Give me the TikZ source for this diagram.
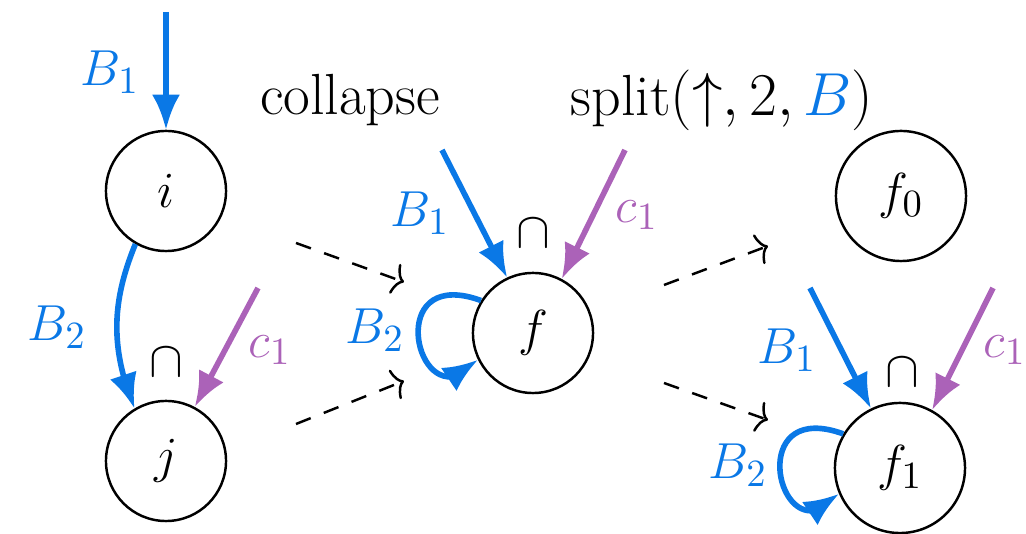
\documentclass[tikz,border=0pt]{standalone}
\usepackage{amsmath,amssymb}
\usepackage{xcolor}
\definecolor{EdgeBlue}{HTML}{0A78E6}
\definecolor{EdgePurple}{HTML}{AB62B8}
\usepackage{tikz}
\usetikzlibrary{arrows.meta,bending,calc,positioning}

\begin{document}
\begin{tikzpicture}[
    x=0.01cm,y=-0.01cm,
    every node/.style={font=\fontsize{15}{18}\selectfont},
    state/.style={circle,draw,line width=0.7pt,minimum size=1.2cm,inner sep=0pt},
    bigstate/.style={state,minimum size=1.3cm},
    opname/.style={font=\fontsize{16.5}{20}\selectfont},
    bluearr/.style={EdgeBlue,line width=1.6pt,-{Latex[length=3.5mm,width=2.8mm]}},
    purplearr/.style={EdgePurple,line width=1.6pt,-{Latex[length=3.5mm,width=2.8mm]}},
    stepmap/.style={line width=0.7pt,dash pattern=on 4.5pt off 4pt,
      -{Computer Modern Rightarrow[length=3pt,width=9pt]}},
    bluelbl/.style={text=EdgeBlue,inner sep=0pt},
    purplelbl/.style={text=EdgePurple,inner sep=0pt}
  ]
  \useasboundingbox (0,0) rectangle (1026,534);

  % states
  \node[state] (i) at (166,191) {$i$};
  \node[state] (j) at (166,461) {$j$};
  \node[state] (f) at (533,333) {$f$};
  \node[bigstate] (f0) at (901,196) {$f_0$};
  \node[bigstate] (f1) at (900,468) {$f_1$};

  % operation names
  \node[opname] (collapse) at (350,100) {collapse};
  \node[opname] (split) at (722,100) {split$(\uparrow, 2, {\color{EdgeBlue}B})$};

  % free ends
  \coordinate (iin) at (166,12);
  \coordinate (jin) at (258,288);
  \coordinate (fin1) at (442,150);
  \coordinate (fin2) at (625,150);
  \coordinate (f1in1) at (810,288);
  \coordinate (f1in2) at (993,288);
  \coordinate (ls1) at (296,243);
  \coordinate (le1) at (404,282);
  \coordinate (ls2) at (296,424);
  \coordinate (le2) at (404,381);
  \coordinate (rs1) at (664,285);
  \coordinate (re1) at (768,246);
  \coordinate (rs2) at (664,383);
  \coordinate (re2) at (768,420);

  % left part
  \draw[bluearr] (iin) -- (i);
  \draw[bluearr] (i.240) to[bend right=22] (j.121);
  \draw[purplearr] (jin) -- (j.62);
  \node[bluelbl] (ib1) at (110,72) {$B_1$};
  \node[bluelbl] (ib2) at (57,327) {$B_2$};
  \node[purplelbl] (jc1) at (270,350) {$c_1$};
  \node (capj) at (166,362) {$\cap$};

  % middle part
  \draw[bluearr] (fin1) -- (f.115);
  \draw[purplearr] (fin2) -- (f.62);
  \draw[bluearr] (f.148) .. controls +(160:1.1cm) and +(230:0.9cm) .. (f.206);
  \node[bluelbl] (fb1) at (420,213) {$B_1$};
  \node[purplelbl] (fc1) at (637,215) {$c_1$};
  \node[bluelbl] (fb2) at (375,330) {$B_2$};
  \node (capf) at (533,233) {$\cap$};

  % right part
  \draw[bluearr] (f1in1) -- (f1.116);
  \draw[purplearr] (f1in2) -- (f1.61);
  \draw[bluearr] (f1.149) .. controls +(160:1.1cm) and +(230:0.9cm) .. (f1.203);
  \node[bluelbl] (f1b1) at (787,350) {$B_1$};
  \node[purplelbl] (f1c1) at (1005,350) {$c_1$};
  \node[bluelbl] (f1b2) at (738,465) {$B_2$};
  \node (capfone) at (902,372) {$\cap$};

  % steps
  \draw[stepmap] (ls1) -- (le1);
  \draw[stepmap] (ls2) -- (le2);
  \draw[stepmap] (rs1) -- (re1);
  \draw[stepmap] (rs2) -- (re2);
\end{tikzpicture}
\end{document}
